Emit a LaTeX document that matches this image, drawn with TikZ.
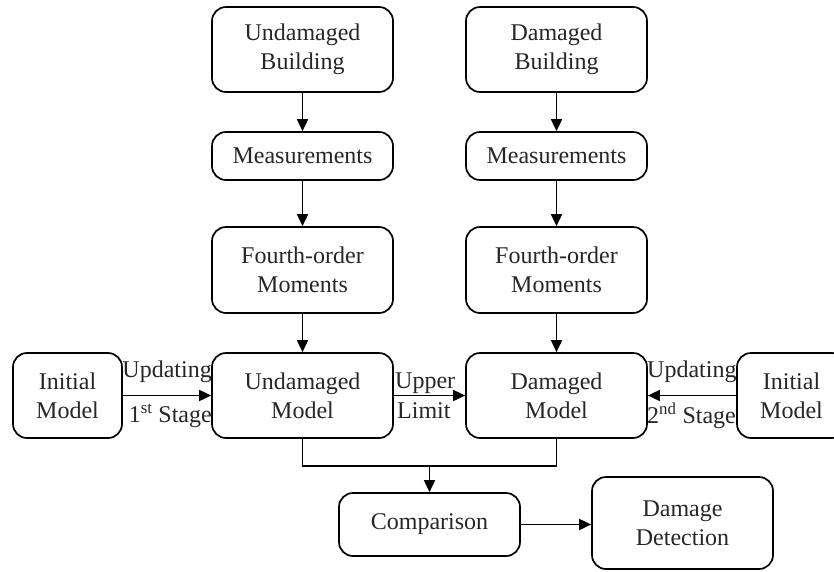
\documentclass[tikz,border=0pt]{standalone}
\usepackage{fontspec}
\setmainfont{Liberation Serif}
\usetikzlibrary{arrows.meta}
\begin{document}
\begin{tikzpicture}[x=1pt,y=-1pt,
  box/.style={draw, line width=1.7pt, rounded corners=14pt, align=center,
    inner sep=0pt, font=\fontsize{24}{29}\selectfont, text=black!85},
  lbl/.style={inner sep=0pt, font=\fontsize{24}{29}\selectfont, text=black!85},
  arr/.style={line width=1.7pt, -{Triangle[length=12pt,width=11pt]}},
  ln/.style={line width=1.7pt}]
\useasboundingbox (0,0) rectangle (834,571);
% top row
\node[box, minimum width=181pt, minimum height=85pt] (ub) at (302.5,49.5) {Undamaged\\Building};
\node[box, minimum width=181pt, minimum height=85pt] (db) at (556.5,49.5) {Damaged\\Building};
\node[box, minimum width=181pt, minimum height=48pt] (um) at (302.5,156) {Measurements};
\node[box, minimum width=181pt, minimum height=48pt] (dm) at (556.5,156) {Measurements};
\node[box, minimum width=181pt, minimum height=86pt] (uf) at (302.5,270) {Fourth-order\\Moments};
\node[box, minimum width=181pt, minimum height=86pt] (df) at (556.5,270) {Fourth-order\\Moments};
\node[box, minimum width=181pt, minimum height=85pt] (umod) at (302.5,395.5) {Undamaged\\Model};
\node[box, minimum width=181pt, minimum height=85pt] (dmod) at (556.5,395.5) {Damaged\\Model};
\node[box, minimum width=109pt, minimum height=85pt] (li) at (67.5,395.5) {Initial\\Model};
\node[box, minimum width=109pt, minimum height=85pt] (ri) at (791.5,395.5) {Initial\\Model};
\node[box, minimum width=181pt, minimum height=63pt] (cmp) at (429.5,524.5) {Comparison};
\node[box, minimum width=181pt, minimum height=92pt] (dd) at (682.5,523) {Damage\\Detection};
% vertical arrows
\draw[arr] (ub) -- (um);
\draw[arr] (db) -- (dm);
\draw[arr] (um) -- (uf);
\draw[arr] (dm) -- (df);
\draw[arr] (uf) -- (umod);
\draw[arr] (df) -- (dmod);
% horizontal arrows
\draw[arr] (li) -- (umod);
\draw[arr] (umod) -- (dmod);
\draw[arr] (ri) -- (dmod);
% labels
\node[lbl, anchor=east] (l1) at (212,372) {Updating};
\node[lbl, anchor=east] (l2) at (212,416) {1\textsuperscript{st} Stage};
\node[lbl, anchor=west] (l3) at (395,383) {Upper};
\node[lbl, anchor=west] (l4) at (397,411) {Limit};
\node[lbl, anchor=west] (l5) at (647,372) {Updating};
\node[lbl, anchor=west] (l6) at (647,416) {2\textsuperscript{nd} Stage};
% merge
\coordinate (mj) at (429.5,466);
\draw[ln] (umod.south) |- (mj) -| (dmod.south);
\draw[arr] (mj) -- (cmp.north);
\draw[arr] (cmp.east) -- (cmp.east -| dd.west);
\end{tikzpicture}
\end{document}
